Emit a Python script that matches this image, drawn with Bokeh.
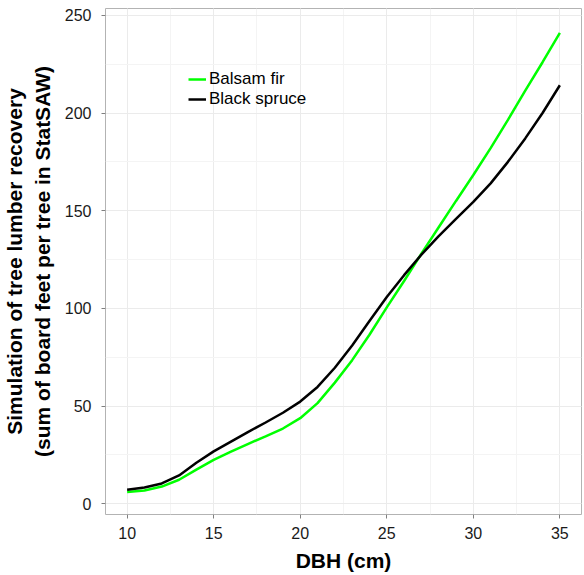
from bokeh.plotting import figure
from bokeh.models import Range1d, SingleIntervalTicker, Legend, LegendItem
from bokeh.embed import file_html
from bokeh.resources import INLINE

dbh = [10, 11, 12, 13, 14, 15, 16, 17, 18, 19, 20, 21, 22, 23, 24, 25, 26, 27, 28, 29, 30, 31, 32, 33, 34, 35]
balsam_fir = [6.0, 6.8, 8.8, 12.3, 17.5, 22.5, 26.7, 30.7, 34.5, 38.5, 43.8, 51.5, 62.0, 73.5, 86.5, 100.5,
              114.0, 128.0, 141.5, 155.0, 168.3, 182.0, 196.5, 211.5, 226.0, 241.0]
black_spruce = [7.2, 8.3, 10.4, 14.5, 21.0, 26.8, 31.8, 36.8, 41.6, 46.6, 52.3, 59.8, 69.6, 81.0, 93.5, 105.8,
                117.0, 127.5, 137.0, 145.8, 154.5, 164.0, 175.0, 187.0, 200.0, 214.2]
series_names = ["Balsam fir", "Black spruce"]

FONT = "Liberation Sans"

p = figure(width=584, height=575, output_backend="svg", toolbar_location=None,
           x_range=Range1d(8.75, 36.25), y_range=Range1d(-5.5, 253.5))
p.min_border_left = 104
p.min_border_right = 3
p.min_border_top = 8
p.min_border_bottom = 61
p.background_fill_color = "white"
p.border_fill_color = "white"
p.outline_line_color = "#B3B3B3"
p.outline_line_width = 1

p.xaxis.ticker = SingleIntervalTicker(interval=5, num_minor_ticks=2)
p.yaxis.ticker = SingleIntervalTicker(interval=50, num_minor_ticks=2)

for ax in (p.xaxis[0], p.yaxis[0]):
    ax.axis_line_color = None
    ax.major_tick_line_color = "#7F7F7F"
    ax.major_tick_in = 0
    ax.major_tick_out = 4
    ax.minor_tick_line_color = None
    ax.major_label_text_font = FONT
    ax.major_label_text_font_size = "16px"
    ax.major_label_text_color = "#1A1A1A"
    ax.axis_label_text_font = FONT
    ax.axis_label_text_font_style = "bold"
    ax.axis_label_text_color = "black"

p.xaxis.axis_label = "DBH (cm)"
p.xaxis.axis_label_text_font_size = "21px"
p.xaxis.major_label_standoff = 8
p.xaxis.axis_label_standoff = 7

p.yaxis.axis_label = "Simulation of tree lumber recovery\n(sum of board feet per tree in StatSAW)"
p.yaxis.axis_label_text_font_size = "21px"
p.yaxis.major_label_standoff = 10
p.yaxis.axis_label_standoff = 8

for g in (p.xgrid[0], p.ygrid[0]):
    g.grid_line_color = "#EBEBEB"
    g.grid_line_width = 1
    g.minor_grid_line_color = "#F4F4F4"
    g.minor_grid_line_width = 1

r1 = p.line(dbh, balsam_fir, line_color="#00FF00", line_width=2.5)
r2 = p.line(dbh, black_spruce, line_color="black", line_width=2.5)

legend = Legend(items=[LegendItem(label=series_names[0], renderers=[r1]),
                       LegendItem(label=series_names[1], renderers=[r2])],
                location=(83, 405))
legend.padding = 0
legend.margin = 0
legend.spacing = 0
legend.glyph_width = 18
legend.glyph_height = 16
legend.label_height = 16
legend.label_standoff = 3
legend.label_text_font = FONT
legend.label_text_font_size = "17px"
legend.label_text_color = "black"
legend.border_line_alpha = 0
legend.background_fill_alpha = 0
p.add_layout(legend, "center")

open("out.html", "w").write(file_html(p, INLINE))
